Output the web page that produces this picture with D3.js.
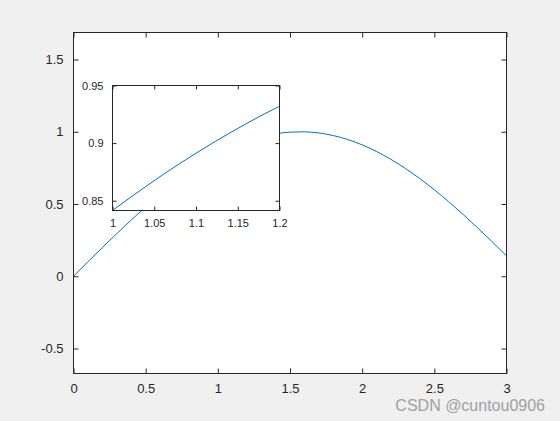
<!DOCTYPE html>
<html>
<head>
<meta charset="utf-8">
<script src="https://cdn.jsdelivr.net/npm/d3@7"></script>
<style>
  body { margin: 0; background: #f0f0f0; }
  svg { display: block; }
  text { font-family: "Liberation Sans", Arial, sans-serif; fill: #262626; }
</style>
</head>
<body>
<div id="chart"></div>
<script>
var w = 560;
var h = 421;

// main curve
var xMain = [0, 0.1, 0.2, 0.3, 0.4, 0.5, 0.6, 0.7, 0.8, 0.9, 1.0,
    1.1, 1.2, 1.3, 1.4, 1.5, 1.6, 1.7, 1.8, 1.9, 2.0,
    2.1, 2.2, 2.3, 2.4, 2.5, 2.6, 2.7, 2.8, 2.9, 3.0];
var yMain = [0, 0.0998, 0.1987, 0.2955, 0.3894, 0.4794, 0.5646, 0.6442, 0.7174, 0.7833, 0.8415,
    0.8912, 0.9320, 0.9636, 0.9854, 0.9975, 0.9996, 0.9917, 0.9738, 0.9463, 0.9093,
    0.8632, 0.8085, 0.7457, 0.6755, 0.5985, 0.5155, 0.4274, 0.3350, 0.2392, 0.1411];
var xMainTicks = [0, 0.5, 1, 1.5, 2, 2.5, 3];
var yMainTicks = [-0.5, 0, 0.5, 1, 1.5];

// zoomed inset
var xZoom = [1.00, 1.02, 1.04, 1.06, 1.08, 1.10, 1.12, 1.14, 1.16, 1.18, 1.20];
var yZoom = [0.8415, 0.8521, 0.8624, 0.8724, 0.8820, 0.8912, 0.9001, 0.9086, 0.9168, 0.9246, 0.9320];
var xZoomTicks = [1, 1.05, 1.1, 1.15, 1.2];
var yZoomTicks = [0.85, 0.9, 0.95];

var lineColor = "#0072bd";

var svg = d3.select("#chart")
    .append("svg")
    .attr("width", w)
    .attr("height", h);

// matlab style labels: plain hyphen for minus
function fmt(d) {
    return String(+d.toFixed(4));
}

function drawAxes(box, xDom, yDom, xs, ys, data, fontSize) {
    var x = d3.scaleLinear().domain(xDom).range([box.l, box.r]);
    var y = d3.scaleLinear().domain(yDom).range([box.b, box.t]);
    var g = svg.append("g");

    g.append("rect")
        .attr("x", box.l).attr("y", box.t)
        .attr("width", box.r - box.l).attr("height", box.b - box.t)
        .attr("fill", "#fff");

    var clipId = "clip" + Math.round(box.l);
    g.append("clipPath").attr("id", clipId)
        .append("rect")
        .attr("x", box.l).attr("y", box.t)
        .attr("width", box.r - box.l).attr("height", box.b - box.t);

    var line = d3.line()
        .x(function (d) { return x(d[0]); })
        .y(function (d) { return y(d[1]); })
        .curve(d3.curveMonotoneX);
    g.append("path")
        .datum(data)
        .attr("clip-path", "url(#" + clipId + ")")
        .attr("d", line)
        .attr("fill", "none")
        .attr("stroke", lineColor)
        .attr("stroke-width", 1);

    var tl = fontSize > 11 ? 5 : 4;
    // ticks inside, on all four sides
    g.append("g").attr("transform", "translate(0," + box.b + ")")
        .call(d3.axisBottom(x).tickValues(xs).tickSizeInner(-tl).tickSizeOuter(0).tickPadding(tl + 5)
            .tickFormat(fmt));
    g.append("g").attr("transform", "translate(0," + box.t + ")")
        .call(d3.axisTop(x).tickValues(xs).tickSizeInner(-tl).tickSizeOuter(0).tickFormat(""));
    g.append("g").attr("transform", "translate(" + box.l + ",0)")
        .call(d3.axisLeft(y).tickValues(ys).tickSizeInner(-tl).tickSizeOuter(0).tickPadding(tl + 5)
            .tickFormat(fmt));
    g.append("g").attr("transform", "translate(" + box.r + ",0)")
        .call(d3.axisRight(y).tickValues(ys).tickSizeInner(-tl).tickSizeOuter(0).tickFormat(""));

    g.selectAll(".domain").remove();
    g.selectAll(".tick line").attr("stroke", "#262626");
    g.selectAll(".tick text")
        .attr("font-size", fontSize)
        .attr("font-family", "Liberation Sans, Arial, sans-serif")
        .attr("fill", "#262626");

    g.append("rect")
        .attr("x", box.l).attr("y", box.t)
        .attr("width", box.r - box.l).attr("height", box.b - box.t)
        .attr("fill", "none")
        .attr("stroke", "#262626")
        .attr("stroke-width", 1);
}

drawAxes({l: 73.5, r: 506.5, t: 32.5, b: 373.5}, [0, 3], [-0.673, 1.687],
    xMainTicks, yMainTicks, d3.zip(xMain, yMain), 13);

drawAxes({l: 112.5, r: 279.5, t: 85.5, b: 210.5}, [1, 1.2], [0.8415, 0.95],
    xZoomTicks, yZoomTicks, d3.zip(xZoom, yZoom), 11);

svg.append("text")
    .attr("x", 545)
    .attr("y", 411)
    .attr("text-anchor", "end")
    .attr("font-size", 16)
    .style("fill", "#a0a0a0")
    .text("CSDN @cuntou0906");
</script>
</body>
</html>
